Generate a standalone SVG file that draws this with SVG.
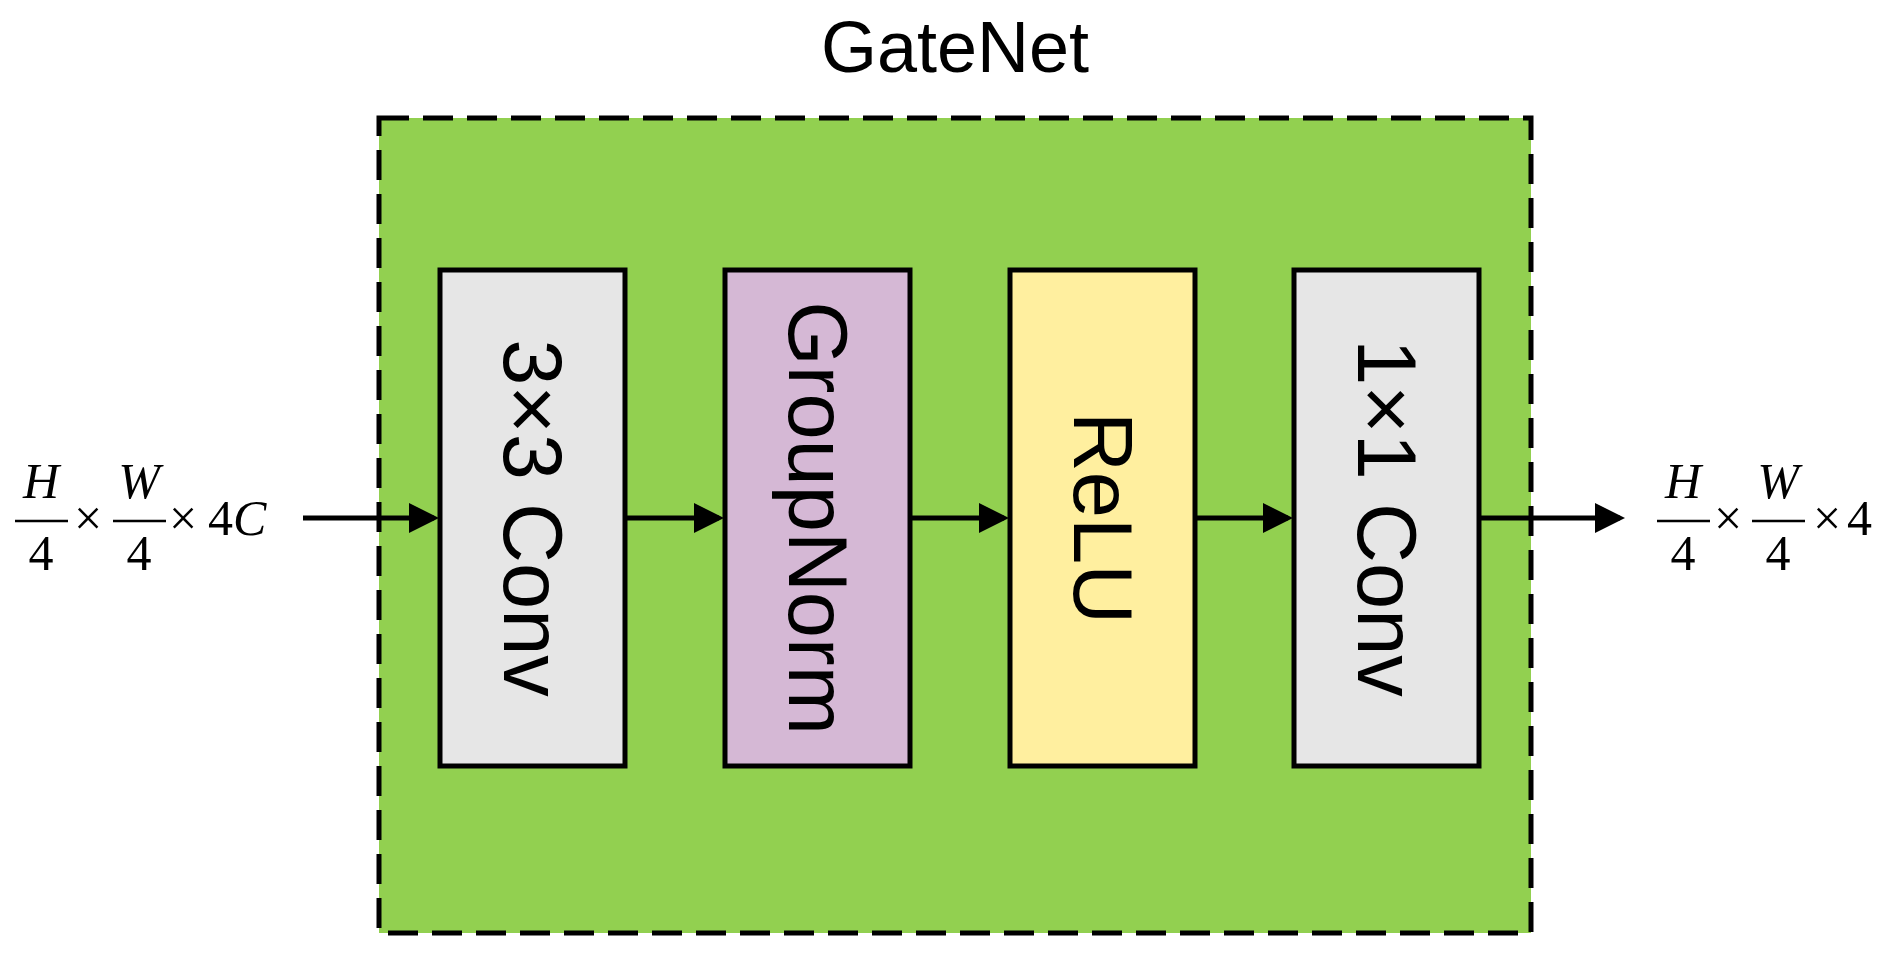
<svg xmlns="http://www.w3.org/2000/svg" width="1877" height="955" viewBox="0 0 1877 955">
<style>
.blk{stroke:#000;stroke-width:5}
.lbl{font-family:"Liberation Sans",Arial,sans-serif;font-size:83px;fill:#000}
.m{font-family:"Liberation Serif","Times New Roman",serif;font-size:50px;fill:#000}
.mi{font-style:italic}
.cn{stroke:#000;stroke-width:5;fill:none;marker-end:url(#ah)}
</style>
<defs>
<marker id="ah" markerWidth="6" markerHeight="6" refX="5" refY="3" orient="auto" markerUnits="strokeWidth"><path d="M0,0 L6,3 L0,6 z" fill="#000"/></marker>
</defs>
<rect width="1877" height="955" fill="#fff"/>
<g id="gatenet">
<rect x="379" y="118" width="1152" height="815" fill="#92d050" stroke="#000" stroke-width="5" stroke-dasharray="30,14"/>
<text x="955" y="72" text-anchor="middle" font-family="Liberation Sans,Arial,sans-serif" font-size="72">GateNet</text>
</g>
<g id="conv3">
<rect class="blk" x="440" y="270" width="185" height="496" fill="#e6e6e6"/>
<text class="lbl" transform="translate(532,518) rotate(90)" text-anchor="middle" dominant-baseline="central">3×3 Conv</text>
</g>
<g id="groupnorm">
<rect class="blk" x="725" y="270" width="185" height="496" fill="#d5b8d5"/>
<text class="lbl" transform="translate(817,518) rotate(90)" text-anchor="middle" dominant-baseline="central">GroupNorm</text>
</g>
<g id="relu">
<rect class="blk" x="1010" y="270" width="185" height="496" fill="#ffef9f"/>
<text class="lbl" transform="translate(1102,518) rotate(90)" text-anchor="middle" dominant-baseline="central">ReLU</text>
</g>
<g id="conv1">
<rect class="blk" x="1294" y="270" width="185" height="496" fill="#e6e6e6"/>
<text class="lbl" transform="translate(1386,518) rotate(90)" text-anchor="middle" dominant-baseline="central">1×1 Conv</text>
</g>
<g id="connectors">
<line class="cn" x1="303" y1="518" x2="434" y2="518"/>
<line class="cn" x1="627" y1="518" x2="719" y2="518"/>
<line class="cn" x1="912" y1="518" x2="1004" y2="518"/>
<line class="cn" x1="1197" y1="518" x2="1288" y2="518"/>
<line class="cn" x1="1481" y1="518" x2="1620" y2="518"/>
</g>
<g id="in-label">
<text class="m mi" x="41" y="498" text-anchor="middle">H</text>
<line x1="15" y1="521" x2="68" y2="521" stroke="#000" stroke-width="2.5"/>
<text class="m" x="41" y="570" text-anchor="middle">4</text>
<text class="m" x="88" y="535" text-anchor="middle">×</text>
<text class="m mi" x="139" y="498" text-anchor="middle">W</text>
<line x1="113" y1="521" x2="166" y2="521" stroke="#000" stroke-width="2.5"/>
<text class="m" x="139" y="570" text-anchor="middle">4</text>
<text class="m" x="183" y="535" text-anchor="middle">×</text>
<text class="m" x="208" y="535">4<tspan class="mi">C</tspan></text>
</g>
<g id="out-label">
<text class="m mi" x="1683" y="498" text-anchor="middle">H</text>
<line x1="1657" y1="521" x2="1710" y2="521" stroke="#000" stroke-width="2.5"/>
<text class="m" x="1683" y="570" text-anchor="middle">4</text>
<text class="m" x="1728" y="535" text-anchor="middle">×</text>
<text class="m mi" x="1778" y="498" text-anchor="middle">W</text>
<line x1="1752" y1="521" x2="1805" y2="521" stroke="#000" stroke-width="2.5"/>
<text class="m" x="1778" y="570" text-anchor="middle">4</text>
<text class="m" x="1827" y="535" text-anchor="middle">×</text>
<text class="m" x="1847" y="535">4</text>
</g>
</svg>
